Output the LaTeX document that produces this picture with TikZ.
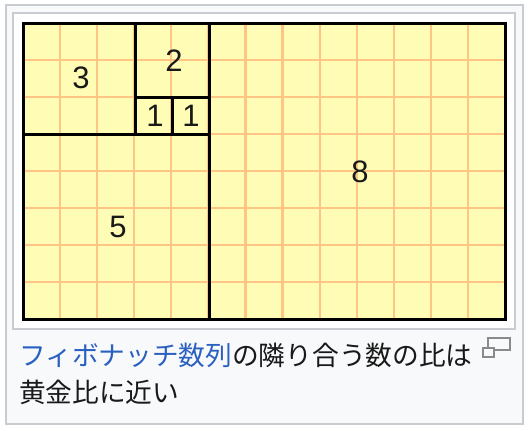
\documentclass[tikz,border=0pt]{standalone}
\usepackage{fontspec}
\setmainfont{Liberation Sans}
\newfontfamily\cjk{Noto Sans CJK JP}
\definecolor{framegray}{HTML}{C8CCD1}
\definecolor{boxbg}{HTML}{F8F9FA}
\definecolor{paper}{HTML}{FFFCB6}
\definecolor{gridorange}{HTML}{FFC585}
\definecolor{linkblue}{HTML}{2A60C0}
\definecolor{icongray}{HTML}{8A8A8A}
\tikzset{
  gridline/.style={draw=gridorange, line width=2.2pt},
  bold/.style={draw=black, line width=3pt, line cap=rect},
  num/.style={font=\fontsize{31}{31}\selectfont, inner sep=0pt, text=black!90},
  captext/.style={font=\cjk\fontsize{26.7}{30}\selectfont, inner sep=0pt, anchor=base west, text=black!90}
}
\begin{document}
\begin{tikzpicture}[x=1pt,y=-1pt]
\useasboundingbox (0,0) rectangle (531,431);
% caption box and image frame
\draw[framegray, line width=2pt, fill=boxbg] (6,5) rectangle (523,424);
\draw[framegray, line width=1.5pt, fill=white] (13,13) rectangle (515,329);
% paper
\fill[paper] (23,23) rectangle (505,319);
\foreach \i in {1,...,12} \draw[gridline] ({23+37.077*\i},23) -- ++(0,296);
\foreach \j in {1,...,7} \draw[gridline] (23,{23+37*\j}) -- ++(482,0);
% squares
\draw[bold] (23,23) rectangle (505,319);
\draw[bold] (209,23) -- (209,319);
\draw[bold] (23,134) -- (209,134);
\draw[bold] (135,23) -- (135,134);
\draw[bold] (135,97) -- (209,97);
\draw[bold] (172,97) -- (172,134);
% labels
\node[num] (n3) at (81,78) {3};
\node[num] (n2) at (174,60.5) {2};
\node[num] (n1a) at (155,116) {1};
\node[num] (n1b) at (191,116) {1};
\node[num] (n5) at (118,227) {5};
\node[num] (n8) at (360,171.5) {8};
% caption
\node[captext] (c1) at (19,365) {\textcolor{linkblue}{フィボナッチ数列}の隣り合う数の比は};
\node[captext] (c2) at (19,402) {黄金比に近い};
% magnify icon
\draw[icongray, line width=1.6pt, fill=boxbg] (488,338) rectangle (510,350);
\draw[icongray, line width=1.6pt, fill=boxbg] (483,348) rectangle (494,357);
\end{tikzpicture}
\end{document}
